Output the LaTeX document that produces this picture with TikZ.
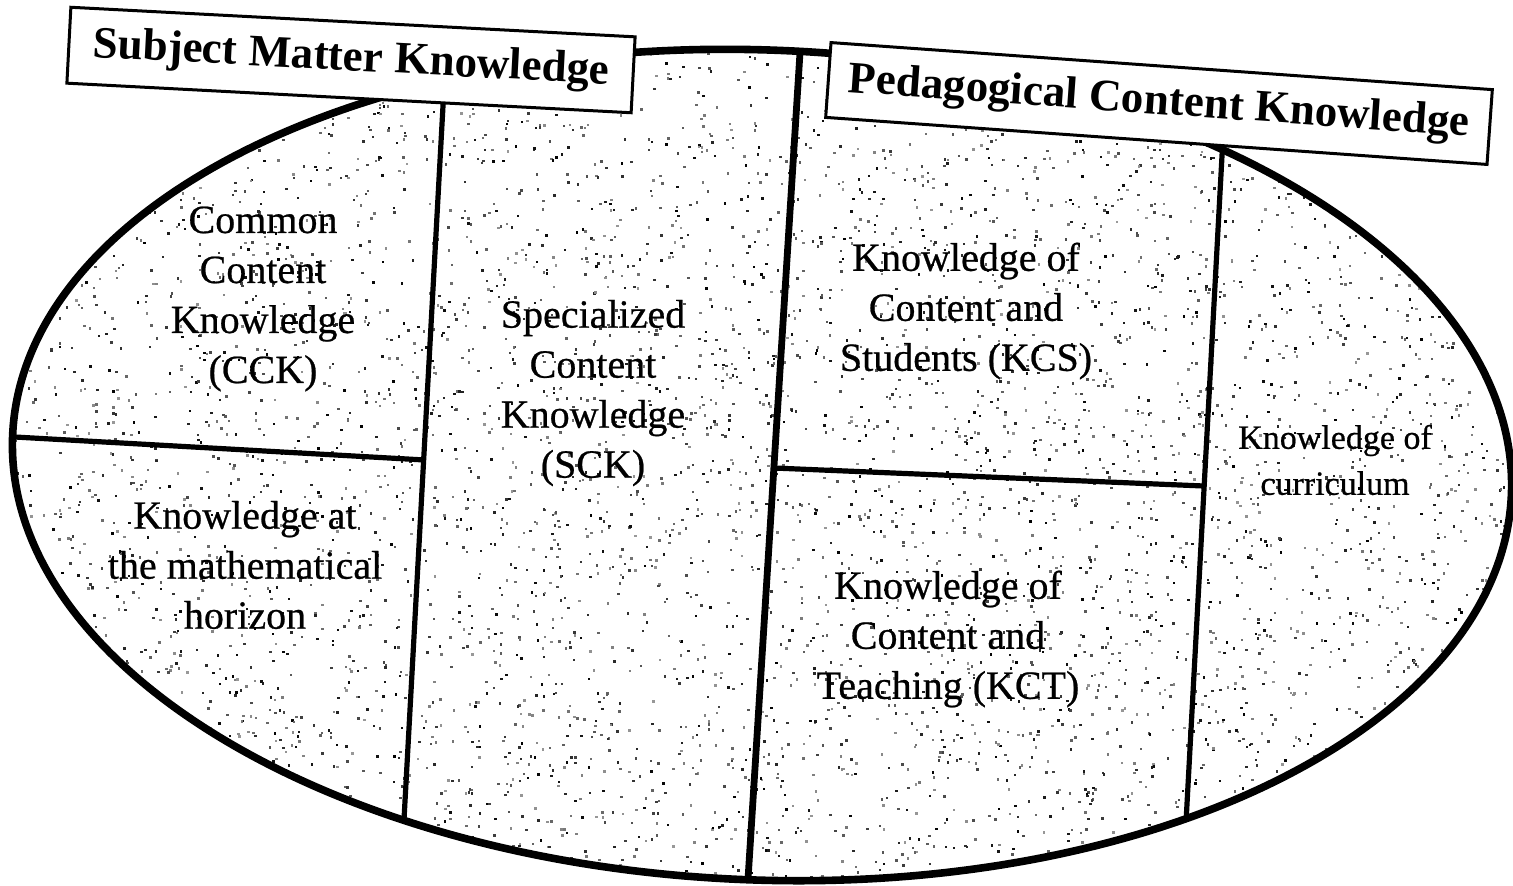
\documentclass[tikz,border=0pt]{standalone}
\usepackage{fontspec}
\setmainfont{Liberation Serif}
\newfontfamily\regionfont{Liberation Serif}[FakeBold=0.6]
\begin{document}
\begin{tikzpicture}[x=0.5pt,y=-0.5pt,
  outline/.style={line width=3.8pt},
  maindiv/.style={line width=3.4pt},
  subdiv/.style={line width=2.6pt},
  titlebox/.style={draw, line width=1.5pt, fill=white, inner sep=0pt,
    font=\fontsize{22.5}{27}\selectfont\bfseries},
  region/.style={align=center, inner sep=0pt,
    font=\fontsize{20}{25}\selectfont\regionfont},
  smallregion/.style={align=center, inner sep=0pt,
    font=\fontsize{17}{23}\selectfont\regionfont}]
\useasboundingbox (0,0) rectangle (1513,885);
\coordinate (C) at (762,465);
% divider end points
\coordinate (mT) at (803.3,0);
\coordinate (mB) at (746.7,900);
\coordinate (lT) at (446.6,40);
\coordinate (lB) at (399.6,900);
\coordinate (lhA) at (-10,435.6);
\coordinate (lhB) at (425,460);
\coordinate (rT) at (1225,100);
\coordinate (rB) at (1181.8,900);
\coordinate (rhA) at (774,468);
\coordinate (rhB) at (1204,486);
\begin{scope}
  \clip (C) ellipse [x radius=375pt, y radius=207.5pt, rotate=-2.2];
  % speckled halftone fill
  \pgfmathsetseed{42}
  \foreach \i in {1,...,6000} {
    \pgfmathsetmacro{\px}{rnd*1513}
    \pgfmathsetmacro{\py}{40+rnd*850}
    \pgfmathsetmacro{\sh}{40+rnd*60}
    \fill[black!\sh] (\px,\py) rectangle ++(2.5,2.5);
  }
  \draw[maindiv] (mT) -- (mB);
  \draw[subdiv] (lT) -- (lB);
  \draw[subdiv] (rT) -- (rB);
  \draw[subdiv] (lhA) -- (lhB);
  \draw[subdiv] (rhA) -- (rhB);
\end{scope}
\draw[outline] (C) ellipse [x radius=375pt, y radius=207.5pt, rotate=-2.2];
% title boxes
\node[titlebox, minimum width=282.5pt, minimum height=38pt, rotate=-3]
  (smk) at (351,60) {Subject Matter Knowledge};
\node[titlebox, minimum width=331.5pt, minimum height=37.5pt, rotate=-4.07]
  (pck) at (1159,103.5) {Pedagogical Content Knowledge};
% region labels
\node[region] (cck) at (263,299) {Common\\Content\\Knowledge\\(CCK)};
\node[region] (sck) at (593,393) {Specialized\\Content\\Knowledge\\(SCK)};
\node[region] (kcs) at (966,311) {Knowledge of\\Content and\\Students (KCS)};
\node[region] (kct) at (948,639) {Knowledge of\\Content and\\Teaching (KCT)};
\node[region] (hor) at (245,565) {Knowledge at\\the mathematical\\horizon};
\node[smallregion] (cur) at (1335,460) {Knowledge of\\curriculum};
\end{tikzpicture}
\end{document}
